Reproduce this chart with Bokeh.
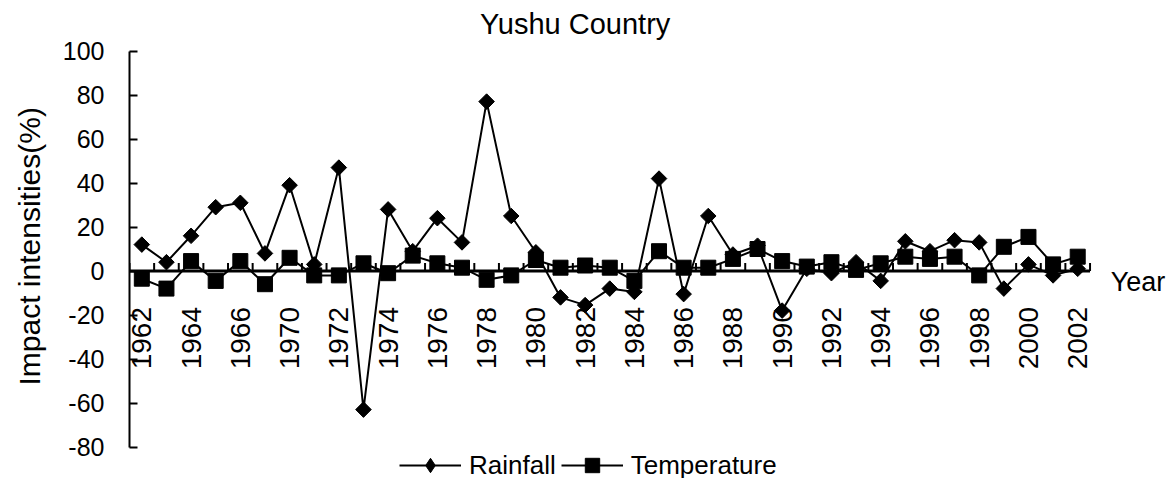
import math
from bokeh.plotting import figure
from bokeh.models import Range1d, FixedTicker, Legend, LegendItem, Title
from bokeh.core.properties import value
from bokeh.embed import file_html
from bokeh.resources import INLINE

years = ["1962", "1963", "1964", "1965", "1966", "1968",
         "1970", "1971", "1972", "1973", "1974", "1975", "1976", "1977", "1978", "1979",
         "1980", "1981", "1982", "1983", "1984", "1985", "1986", "1987", "1988", "1989",
         "1990", "1991", "1992", "1993", "1994", "1995", "1996", "1997", "1998", "1999",
         "2000", "2001", "2002"]
rainfall = [12, 4, 16, 29, 31, 8, 39, 3, 47, -63, 28, 9, 24, 13, 77, 25,
            8.5, -12, -15.5, -8, -9.5, 42, -10.5, 25, 7.5, 11.5,
            -18, 1, -1, 4, -4.5, 13.5, 9, 14, 13, -8, 3, -2, 1]
temperature = [-3.5, -8, 4.5, -4.5, 4.5, -6, 6, -2, -2, 3.5, -1, 7, 3.5, 1.5, -4, -2,
               5, 1.5, 2.5, 1.5, -4.5, 9, 1.5, 1.5, 5.5, 10,
               4.5, 2, 4, 0.5, 3.5, 6.5, 5.5, 6.5, -2, 11, 15.5, 3, 6.5]
y_ticks = [-80, -60, -40, -20, 0, 20, 40, 60, 80, 100]
y_min, y_max = -80, 100
title_text = "Yushu Country"
y_title = "Impact intensities(%)"
x_title = "Year"

FONT = "Liberation Sans"
W, H = 1170, 478
LEFT = 126            # frame left (category -0.5)
Y100 = 50.5           # pixel row of y = 100
PX_X = 24.7           # pixels per category
PX_Y = 2.2            # pixels per y unit

n = len(years)
x = list(range(n))
x_hi = -0.5 + (W - LEFT) / PX_X
y_hi = y_max + Y100 / PX_Y
y_lo = y_max - (H - Y100) / PX_Y

p = figure(width=W, height=H, output_backend="svg", toolbar_location=None,
           x_range=Range1d(-0.5, x_hi), y_range=Range1d(y_lo, y_hi),
           min_border_left=LEFT, min_border_right=0, min_border_top=0, min_border_bottom=0)
p.outline_line_color = None
p.xgrid.visible = False
p.ygrid.visible = False
p.xaxis.visible = False

ya = p.yaxis[0]
ya.bounds = (y_min, y_max)
ya.ticker = FixedTicker(ticks=y_ticks, minor_ticks=[])
ya.major_label_overrides = {t: str(t) for t in y_ticks}
ya.major_tick_in = 8
ya.major_tick_out = 0
ya.major_tick_line_width = 2
ya.major_tick_line_color = "black"
ya.axis_line_width = 2
ya.axis_line_color = "black"
ya.major_label_standoff = 25
ya.major_label_text_font = FONT
ya.major_label_text_font_size = "25px"
ya.major_label_text_color = "black"

p.add_layout(Title(text=y_title, align="left", offset=93, standoff=24, vertical_align="top",
                   text_font=FONT, text_font_size="30px", text_font_style="normal",
                   text_color="black"), "left")

# chart title, centred over the series area
p.text(x=[-0.5 + (573 - LEFT) / PX_X], y=[y_max + (Y100 - 23) / PX_Y], text=[title_text],
       text_align="center", text_baseline="middle",
       text_font=value(FONT), text_font_size="29px", text_color="black")

# category axis drawn along y = 0
bounds_x = [i - 0.5 for i in range(n + 1)]
p.segment(x0=[bounds_x[0]], y0=[0], x1=[bounds_x[-1]], y1=[0], line_color="black", line_width=3)
p.ray(x=bounds_x, y=[0] * len(bounds_x), length=8, length_units="screen", angle=math.pi / 2,
      line_color="black", line_width=2)
lab_x = x[::2]
p.text(x=lab_x, y=[0] * len(lab_x), text=[years[i] for i in lab_x], angle=math.pi / 2,
       text_align="right", text_baseline="middle", y_offset=36,
       text_font=value(FONT), text_font_size="28px", text_color="black")
p.text(x=[39.34], y=[-5], text=[x_title], text_align="left", text_baseline="middle",
       text_font=value(FONT), text_font_size="27px", text_color="black")

r1 = p.line(x, rainfall, line_color="black", line_width=2)
s1 = p.scatter(x, rainfall, marker="square", angle=math.pi / 4, size=11, color="black")
r2 = p.line(x, temperature, line_color="black", line_width=2)
s2 = p.scatter(x, temperature, marker="square", size=15, color="black")
# key glyph for the legend (zero size on the chart itself)
k1 = p.scatter(x, rainfall, marker="diamond", size=0, color="black")

legend = Legend(items=[LegendItem(label="Rainfall", renderers=[r1, k1]),
                       LegendItem(label="Temperature", renderers=[r2, s2])],
                orientation="horizontal", location=(270, -5),
                glyph_width=62, glyph_height=36, label_standoff=8, spacing=5,
                padding=0, margin=0, border_line_color=None, background_fill_alpha=0,
                label_text_font=FONT, label_text_font_size="26px", label_text_color="black")
p.add_layout(legend)

open("out.html", "w").write(file_html(p, INLINE))
